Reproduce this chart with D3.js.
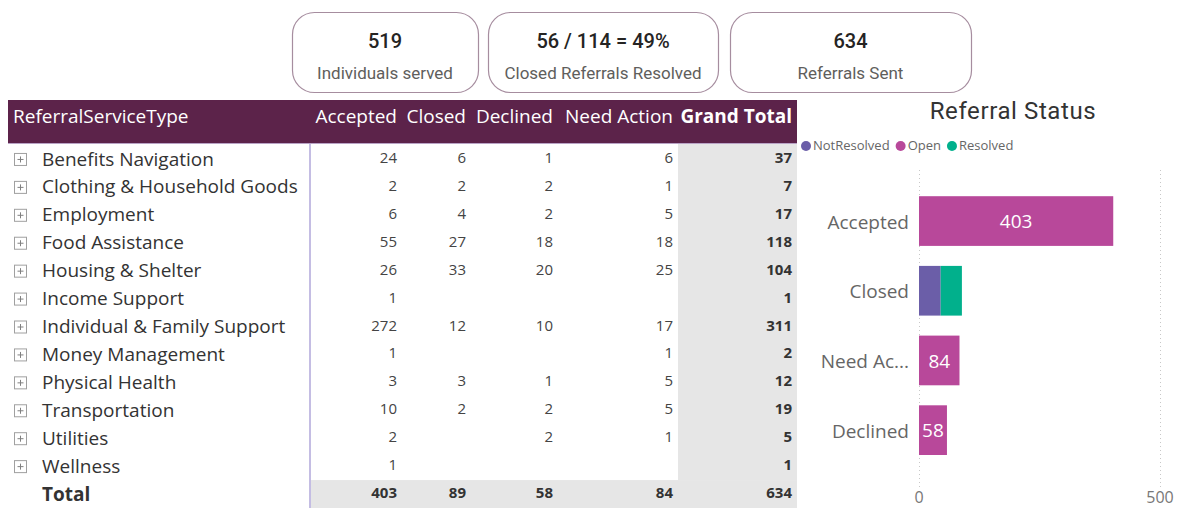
<!DOCTYPE html>
<html><head><meta charset="utf-8">
<script src="https://cdnjs.cloudflare.com/ajax/libs/d3/7.8.5/d3.min.js"></script>
<style>
html,body{margin:0;padding:0;background:#fff;}
svg{display:block;}
</style></head>
<body>
<svg id="c" width="1179" height="508"></svg>
<script>
// ---- data ----
const cardValues = ["519", "56 / 114 = 49%", "634"];
const cardLabels = ["Individuals served", "Closed Referrals Resolved", "Referrals Sent"];

const serviceTypes = ["Benefits Navigation","Clothing & Household Goods","Employment","Food Assistance","Housing & Shelter","Income Support","Individual & Family Support","Money Management","Physical Health","Transportation","Utilities","Wellness"];
const columns = ["Accepted","Closed","Declined","Need Action"];
const accepted   = [24, 2, 6, 55, 26, 1, 272, 1, 3, 10, 2, 1];
const closed     = [6, 2, 4, 27, 33, null, 12, null, 3, 2, null, null];
const declined   = [1, 2, 2, 18, 20, null, 10, null, 1, 2, 2, null];
const needAction = [6, 1, 5, 18, 25, null, 17, 1, 5, 5, 1, null];

const statusCats = ["Accepted","Closed","Need Action","Declined"];
const legendKeys = ["NotResolved","Open","Resolved"];
const notResolved = [0, 45, 0, 0];
const openVals    = [403, 0, 84, 58];
const resolved    = [0, 44, 0, 0];
const xTicks = [0, 500];

// ---- drawing ----
const svg = d3.select("#c");
const FONT = "'Segoe UI','Open Sans','Noto Sans',sans-serif";
const DIN = "'Roboto','DejaVu Sans Condensed',sans-serif";

// cards
const cardX = d3.scaleOrdinal().domain(d3.range(3)).range([292, 488, 730]);
const cardW = [186, 230, 241];
const cards = svg.selectAll("g.card").data(d3.range(3)).join("g").attr("class","card")
  .attr("transform", i => `translate(${cardX(i)},12)`);
cards.append("rect").attr("x",0.5).attr("y",0.5).attr("width",(i)=>cardW[i]).attr("height",80)
  .attr("rx",22).attr("fill","#fff").attr("stroke","#a68d9f").attr("stroke-width",1.2);
cards.append("text").attr("x",i=>cardW[i]/2).attr("y",31).attr("text-anchor","middle")
  .attr("dominant-baseline","middle").attr("font-family",DIN).attr("font-size",20).attr("font-weight",500)
  .attr("fill","#252423").text(i=>cardValues[i]);
cards.append("text").attr("x",i=>cardW[i]/2).attr("y",63).attr("text-anchor","middle")
  .attr("dominant-baseline","middle").attr("font-family",DIN).attr("font-size",17)
  .attr("fill","#605e5c").text(i=>cardLabels[i]);

// table
const rows = serviceTypes.concat(["Total"]);
const yRow = d3.scaleBand().domain(rows).range([145, 508]);
const colRight = d3.scaleOrdinal().domain(columns.concat(["Grand Total"])).range([397, 466, 553, 673, 792]);
const colVals = [accepted, closed, declined, needAction];
const grand = serviceTypes.map((_,i)=>d3.sum(colVals, a=>a[i]||0));
const colTotals = colVals.map(a=>d3.sum(a));
const total = d3.sum(grand);

// gray backgrounds
svg.append("rect").attr("x",678).attr("y",143).attr("width",119).attr("height",yRow("Total")-143).attr("fill","#e6e6e6");
svg.append("rect").attr("x",310).attr("y",yRow("Total")).attr("width",487).attr("height",508-yRow("Total")).attr("fill","#e6e6e6");
// header
svg.append("rect").attr("x",8).attr("y",100).attr("width",789).attr("height",43).attr("fill","#5c234a");
svg.append("line").attr("x1",8).attr("x2",797).attr("y1",143.5).attr("y2",143.5).attr("stroke","#b9a3c6").attr("stroke-width",1);
svg.append("text").attr("x",13).attr("y",118).attr("dominant-baseline","middle").attr("font-family",FONT)
  .attr("font-size",19).attr("fill","#fff").text("ReferralServiceType");
svg.selectAll("text.hdr").data(columns.concat(["Grand Total"])).join("text").attr("class","hdr")
  .attr("x",d=>colRight(d)).attr("y",118).attr("text-anchor","end").attr("dominant-baseline","middle")
  .attr("font-family",FONT).attr("font-size",19).attr("font-weight",d=>d==="Grand Total"?700:400)
  .attr("fill","#fff").text(d=>d);
// divider
svg.append("line").attr("x1",310).attr("x2",310).attr("y1",144).attr("y2",508).attr("stroke","#c4bde3").attr("stroke-width",2);

// rows
const rg = svg.selectAll("g.row").data(serviceTypes).join("g").attr("class","row")
  .attr("transform", d=>`translate(0,${yRow(d)+yRow.bandwidth()/2})`);
rg.append("rect").attr("x",14.5).attr("y",-5.5).attr("width",12).attr("height",12).attr("fill","#fff").attr("stroke","#a0a0a0").attr("stroke-width",1);
rg.append("path").attr("d","M17.5,0.5H23.5M20.5,-2.5V3.5").attr("stroke","#808080").attr("stroke-width",1);
rg.append("text").attr("x",42).attr("y",1.5).attr("dominant-baseline","middle").attr("font-family",FONT)
  .attr("font-size",19).attr("fill","#333").text(d=>d);
columns.forEach((c,ci)=>{
  rg.append("text").attr("x",colRight(c)).attr("y",0).attr("text-anchor","end").attr("dominant-baseline","middle")
    .attr("font-family",FONT).attr("font-size",15).attr("fill","#444")
    .text((d,i)=>colVals[ci][i]==null?"":colVals[ci][i]);
});
rg.append("text").attr("x",colRight("Grand Total")).attr("y",0).attr("text-anchor","end").attr("dominant-baseline","middle")
  .attr("font-family",FONT).attr("font-size",15).attr("font-weight",700).attr("fill","#333").text((d,i)=>grand[i]);
// total row
const ty = yRow("Total")+yRow.bandwidth()/2;
svg.append("text").attr("x",42).attr("y",ty+1.5).attr("dominant-baseline","middle").attr("font-family",FONT)
  .attr("font-size",19).attr("font-weight",700).attr("fill","#333").text("Total");
columns.forEach((c,ci)=>{
  svg.append("text").attr("x",colRight(c)).attr("y",ty).attr("text-anchor","end").attr("dominant-baseline","middle")
    .attr("font-family",FONT).attr("font-size",15).attr("font-weight",700).attr("fill","#333").text(colTotals[ci]);
});
svg.append("text").attr("x",colRight("Grand Total")).attr("y",ty).attr("text-anchor","end").attr("dominant-baseline","middle")
  .attr("font-family",FONT).attr("font-size",15).attr("font-weight",700).attr("fill","#333").text(total);

// chart
svg.append("text").attr("x",1013).attr("y",113).attr("text-anchor","middle").attr("dominant-baseline","middle")
  .attr("font-family",DIN).attr("font-size",24).attr("letter-spacing",0.6).attr("fill","#333").text("Referral Status");
const color = d3.scaleOrdinal().domain(legendKeys).range(["#6b5ea8","#b8489a","#01b08c"]);
// legend
let lx = 806;
const lg = svg.append("g");
legendKeys.forEach(k=>{
  lg.append("circle").attr("cx",lx).attr("cy",146).attr("r",5).attr("fill",color(k));
  const t = lg.append("text").attr("x",lx+7).attr("y",146.5).attr("dominant-baseline","middle")
    .attr("font-family",FONT).attr("font-size",13).attr("fill","#666").text(k);
  lx += 7 + t.node().getComputedTextLength() + 11;
});

const x = d3.scaleLinear().domain([0,500]).range([919,1160]);
const y = d3.scaleBand().domain(statusCats).range([186.2,465]).paddingInner(0.287).paddingOuter(0.1435);
// gridlines
svg.selectAll("line.grid").data(xTicks).join("line").attr("class","grid")
  .attr("x1",d=>x(d)+0.5).attr("x2",d=>x(d)+0.5).attr("y1",170).attr("y2",490)
  .attr("stroke","#c8c8c8").attr("stroke-dasharray","1,3").attr("stroke-width",1);
svg.selectAll("text.xt").data(xTicks).join("text").attr("class","xt")
  .attr("x",d=>x(d)).attr("y",499).attr("text-anchor","middle").attr("dominant-baseline","middle")
  .attr("font-family",FONT).attr("font-size",16).attr("fill","#777").text(d=>d);

const table = statusCats.map((c,i)=>({cat:c, NotResolved:notResolved[i], Open:openVals[i], Resolved:resolved[i]}));
const stack = d3.stack().keys(legendKeys)(table);
svg.selectAll("g.ser").data(stack).join("g").attr("class","ser").attr("fill",s=>color(s.key))
  .selectAll("rect").data(s=>s.filter(d=>d[1]>d[0])).join("rect")
  .attr("x",d=>x(d[0])).attr("y",d=>y(d.data.cat)).attr("width",d=>x(d[1])-x(d[0])).attr("height",y.bandwidth());
// data labels for Open
svg.selectAll("text.dl").data(table.filter(d=>d.Open>0)).join("text").attr("class","dl")
  .attr("x",d=>(x(0)+x(d.Open))/2).attr("y",d=>y(d.cat)+y.bandwidth()/2+2).attr("text-anchor","middle")
  .attr("dominant-baseline","middle").attr("font-family",FONT).attr("font-size",19).attr("fill","#fff").text(d=>d.Open);
// category labels
const maxW = 92;
svg.selectAll("text.cl").data(statusCats).join("text").attr("class","cl")
  .attr("x",909).attr("y",d=>y(d)+y.bandwidth()/2+2.5).attr("text-anchor","end").attr("dominant-baseline","middle")
  .attr("font-family",FONT).attr("font-size",19).attr("fill","#666").text(d=>d)
  .each(function(d){
    const el = d3.select(this);
    if (this.getComputedTextLength() > maxW) {
      let s = d;
      while (s.length>1) { s = s.slice(0,-1); el.text(s.trimEnd()+"..."); if (this.getComputedTextLength()<=maxW) break; }
    }
  });
</script>
</body></html>
